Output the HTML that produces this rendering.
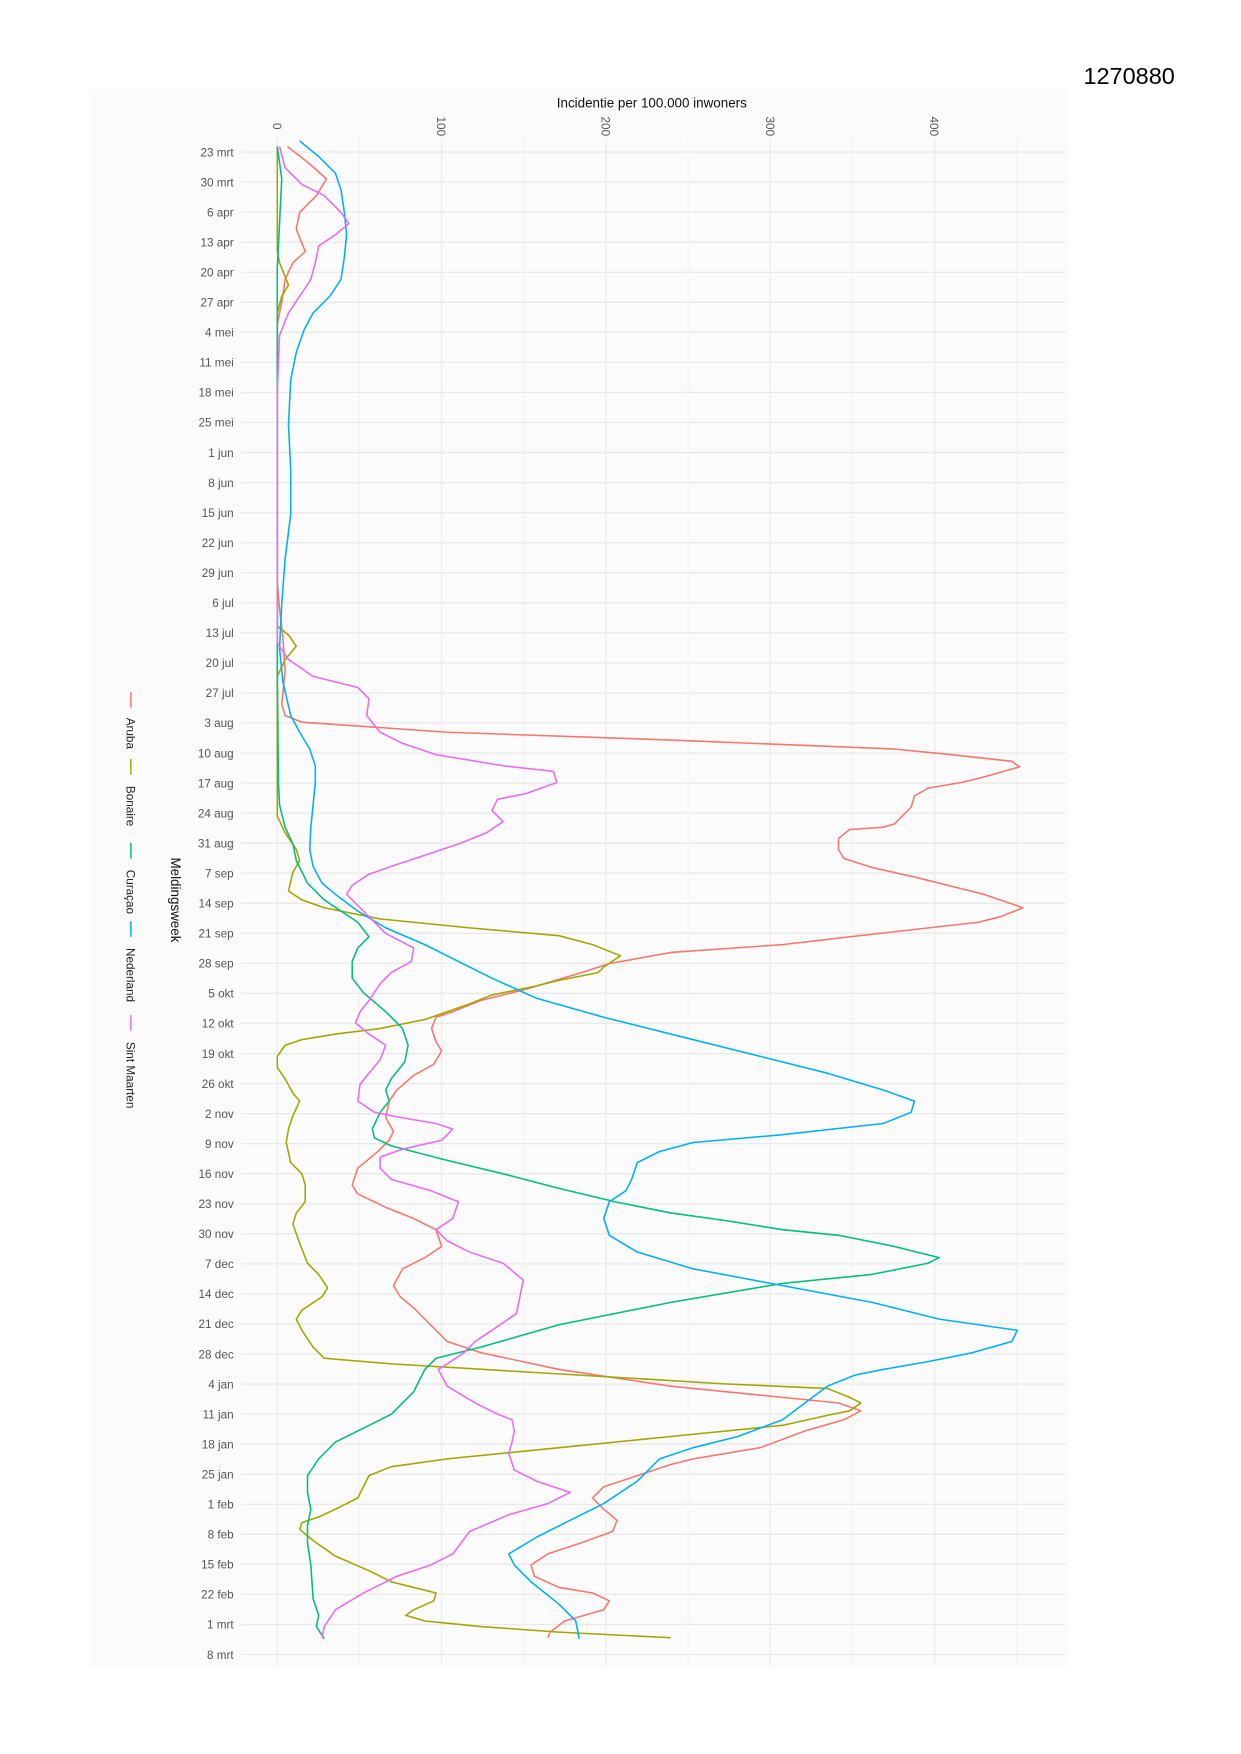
<!DOCTYPE html>
<html><head><meta charset="utf-8"><style>
html,body{margin:0;padding:0;background:#fff;}
svg{display:block;font-family:"Liberation Sans",sans-serif;}
</style></head><body>
<svg width="1241" height="1754" viewBox="0 0 1110 1569" xmlns="http://www.w3.org/2000/svg">
<rect x="0" y="0" width="1110" height="1569" fill="#fff"/>
<rect x="80" y="80" width="876" height="1412" fill="#fbfbfb"/>
<text x="1010" y="75" font-size="21" text-anchor="middle" fill="#000">1270880</text>
<text x="583" y="96" font-size="12" text-anchor="middle" fill="#111">Incidentie per 100.000 inwoners</text>
<g id="grid"></g>
<g font-size="10.5" fill="#555">
<text transform="translate(244,113) rotate(90)" text-anchor="middle">0</text>
<text transform="translate(391,113) rotate(90)" text-anchor="middle">100</text>
<text transform="translate(538,113) rotate(90)" text-anchor="middle">200</text>
<text transform="translate(685,113) rotate(90)" text-anchor="middle">300</text>
<text transform="translate(832,113) rotate(90)" text-anchor="middle">400</text>
</g>
<g id="dates" font-size="10.5" fill="#555" text-anchor="end"></g>
<text transform="translate(153,805) rotate(90)" font-size="12" text-anchor="middle" fill="#111">Meldingsweek</text>
<g font-size="10.5" fill="#222" stroke-width="1.3">
<line x1="117" y1="619" x2="117" y2="633" stroke="#F8766D"/>
<text transform="translate(113,642) rotate(90)">Aruba</text>
<line x1="117" y1="679" x2="117" y2="693" stroke="#A3A500"/>
<text transform="translate(113,703) rotate(90)">Bonaire</text>
<line x1="117" y1="754" x2="117" y2="768" stroke="#00BF7D"/>
<text transform="translate(113,778) rotate(90)">Curaçao</text>
<line x1="117" y1="824" x2="117" y2="838" stroke="#00B0F6"/>
<text transform="translate(113,848) rotate(90)">Nederland</text>
<line x1="117" y1="908" x2="117" y2="922" stroke="#E76BF3"/>
<text transform="translate(113,932) rotate(90)">Sint Maarten</text>
</g>
<g fill="none" stroke-width="1.4" stroke-linejoin="round">
<polyline stroke="#F8766D" points="257,131 275,145 292,160 283,175 268,190 265,205 273,225 262,235 255,250 252,270 248,290 248,350 248,520 250,545 253,570 255,600 252,630 255,640 270,646 400,655 600,662 800,670 850,675 905,681 912,686 880,695 860,700 830,705 818,712 815,722 800,737 790,740 760,742 750,750 750,760 755,768 780,776 820,785 880,800 915,812 895,820 875,825 760,838 700,845 600,852 545,862 520,870 470,885 430,895 405,905 390,910 386,920 390,932 395,940 388,952 370,962 355,975 348,985 345,1000 352,1012 348,1020 338,1030 320,1045 315,1060 320,1068 345,1080 370,1090 390,1100 395,1115 380,1125 360,1135 352,1150 358,1160 370,1170 380,1180 390,1190 400,1200 430,1210 500,1225 600,1240 700,1250 750,1255 770,1262 755,1270 720,1280 680,1295 620,1305 600,1310 570,1320 540,1330 530,1340 540,1350 552,1360 548,1370 520,1380 490,1390 475,1400 478,1410 500,1420 530,1425 545,1432 540,1440 505,1450 492,1460 490,1465"/>
<polyline stroke="#A3A500" points="248,131 248,225 250,235 258,255 252,265 248,280 248,540 248,560 258,568 265,578 255,590 248,605 248,730 255,745 265,760 268,770 262,780 258,797 270,805 290,812 340,822 420,830 500,837 530,845 555,855 540,865 535,870 500,877 475,883 440,890 420,898 400,905 380,912 340,920 300,925 270,930 255,935 248,945 248,955 255,965 262,978 268,985 262,998 258,1010 256,1022 260,1040 270,1050 273,1060 273,1075 265,1085 262,1095 268,1112 275,1130 285,1140 293,1152 288,1160 270,1172 265,1180 270,1190 280,1205 290,1215 350,1220 450,1226 550,1232 650,1238 740,1242 760,1250 770,1255 760,1262 745,1265 700,1275 600,1285 500,1295 400,1305 350,1312 330,1320 325,1330 320,1340 300,1350 285,1357 270,1362 268,1368 280,1378 300,1392 330,1405 350,1415 370,1420 390,1425 388,1432 370,1440 363,1445 380,1450 430,1455 500,1460 600,1465"/>
<polyline stroke="#00BF7D" points="248,131 252,160 250,200 248,240 248,300 248,520 248,600 249,700 250,720 255,740 262,755 265,770 275,790 290,805 305,815 320,825 330,838 320,848 315,860 315,875 325,888 345,905 360,920 365,935 362,950 350,965 345,975 348,985 340,995 333,1010 335,1018 350,1025 400,1038 450,1050 500,1063 550,1075 600,1085 650,1092 700,1100 750,1105 800,1115 840,1125 830,1130 780,1140 700,1148 600,1165 500,1185 430,1205 390,1215 380,1225 375,1235 370,1245 350,1265 320,1280 300,1290 285,1305 275,1320 275,1335 278,1350 275,1365 275,1380 278,1400 280,1430 285,1445 283,1455 290,1466"/>
<polyline stroke="#00B0F6" points="268,126 285,140 300,155 305,170 308,190 310,210 308,230 305,250 295,265 280,280 272,295 265,315 260,340 258,380 260,420 260,460 255,500 252,540 250,580 253,610 260,640 268,655 277,670 282,685 282,700 280,720 278,740 277,760 280,775 288,790 300,800 320,815 345,830 380,845 410,860 440,875 480,893 540,910 600,925 680,945 740,960 790,975 818,985 815,995 790,1005 700,1015 620,1022 590,1030 570,1040 565,1055 560,1065 545,1075 540,1090 545,1105 570,1120 620,1135 700,1150 780,1165 840,1180 910,1190 905,1200 870,1210 830,1218 790,1225 765,1230 740,1240 720,1255 700,1270 660,1285 620,1295 590,1305 570,1325 540,1345 510,1360 480,1375 455,1390 460,1400 475,1415 500,1435 515,1450 518,1466"/>
<polyline stroke="#E76BF3" points="250,131 255,150 270,165 290,175 305,190 312,200 300,210 285,220 282,235 278,250 268,265 258,280 250,300 248,350 248,540 248,575 258,590 280,605 320,615 330,625 328,640 340,655 360,665 390,675 450,685 495,690 498,700 470,710 445,715 440,725 450,735 435,745 410,755 380,765 350,775 330,782 315,792 310,800 320,810 335,825 345,835 370,848 368,860 350,870 340,880 330,895 322,905 318,915 330,925 345,935 340,948 330,960 322,970 320,985 335,995 360,1000 390,1005 405,1010 395,1020 360,1028 340,1035 340,1045 350,1055 385,1065 410,1075 405,1090 390,1100 400,1110 420,1120 450,1130 468,1145 465,1160 462,1175 440,1190 425,1200 415,1210 400,1220 392,1225 400,1240 425,1255 445,1265 458,1270 460,1280 458,1290 455,1300 460,1315 480,1325 510,1335 490,1345 455,1355 420,1370 405,1390 385,1400 355,1410 325,1425 300,1440 290,1455 288,1465"/>
</g>
<script>
(function(){
var ns="http://www.w3.org/2000/svg";
var g=document.getElementById("grid"),d=document.getElementById("dates");
function ln(x1,y1,x2,y2,c,w){var l=document.createElementNS(ns,"line");l.setAttribute("x1",x1);l.setAttribute("y1",y1);l.setAttribute("x2",x2);l.setAttribute("y2",y2);l.setAttribute("stroke",c);l.setAttribute("stroke-width",w);g.insertBefore(l,g.firstChild);}
var xs=[248,321.5,395,468.5,542,615.5,689,762.5,836,909.5];
xs.forEach(function(x,i){ln(x,124,x,1490,i%2?"#f1f1f1":"#e9e9e9",i%2?0.8:1);});
var labs=["23 mrt","30 mrt","6 apr","13 apr","20 apr","27 apr","4 mei","11 mei","18 mei","25 mei","1 jun","8 jun","15 jun","22 jun","29 jun","6 jul","13 jul","20 jul","27 jul","3 aug","10 aug","17 aug","24 aug","31 aug","7 sep","14 sep","21 sep","28 sep","5 okt","12 okt","19 okt","26 okt","2 nov","9 nov","16 nov","23 nov","30 nov","7 dec","14 dec","21 dec","28 dec","4 jan","11 jan","18 jan","25 jan","1 feb","8 feb","15 feb","22 feb","1 mrt","8 mrt"];
labs.forEach(function(t,i){var y=136+26.88*i;ln(216,y,953,y,"#e9e9e9",1.2);var e=document.createElementNS(ns,"text");e.setAttribute("x",209);e.setAttribute("y",y+3.8);e.textContent=t;d.appendChild(e);});
})();
</script>
</svg>
</body></html>
